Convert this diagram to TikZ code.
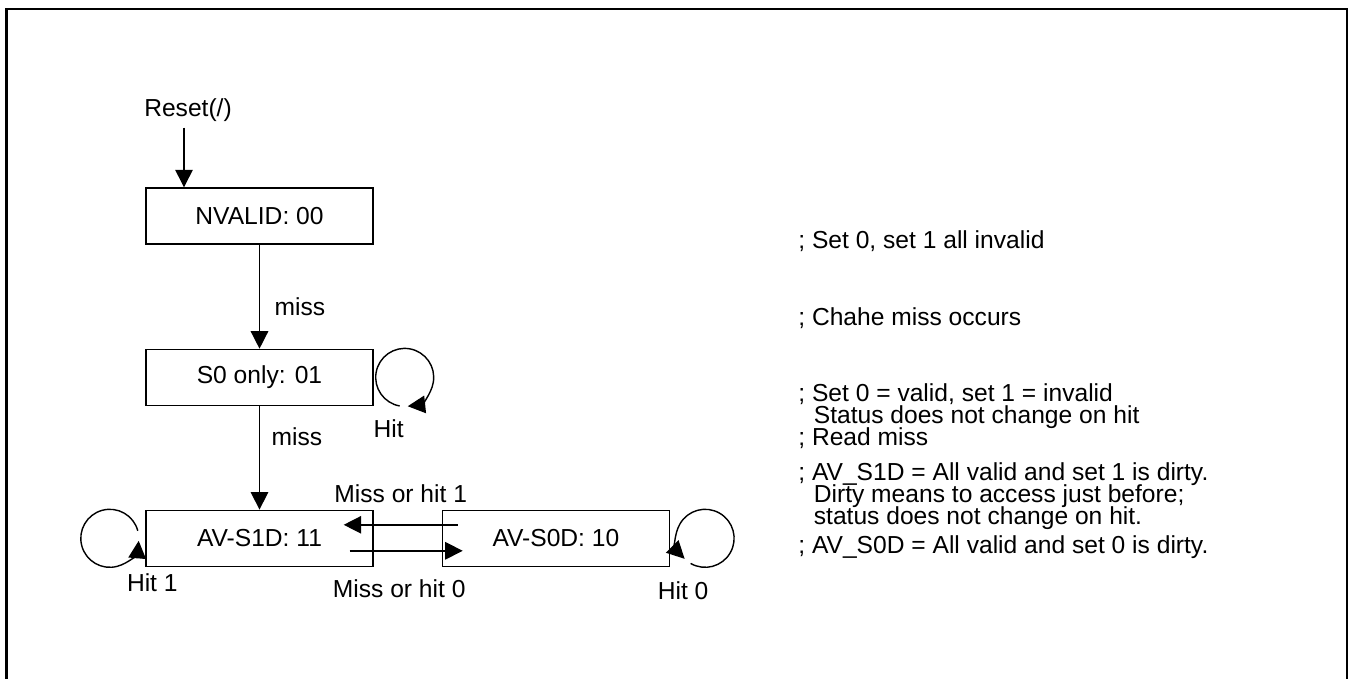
\documentclass[tikz,border=0pt]{standalone}
\usepackage{fontspec}
\setmainfont{Liberation Sans}
\usepackage{tikz}
\usetikzlibrary{positioning, arrows.meta}
\tikzset{
  statebox/.style={draw, line width=0.8pt, minimum width=4.54cm, minimum height=1.12cm},
  arr/.style={line width=0.8pt, -{Triangle[length=0.35cm, width=0.35cm]}},
  note/.style={anchor=base west, inner sep=0pt},
}

\begin{document}
\begin{tikzpicture}[font=\fontsize{14pt}{16pt}\selectfont]
  \useasboundingbox (0,0) rectangle (27.06,13.58);
  % frame, open at the bottom like the scan
  \draw[line width=1.5pt] (0.126,-0.3) -- (0.126,13.40) -- (26.94,13.40) -- (26.94,-0.3);

  \node (reset) at (3.76,11.38) {Reset(/)};
  \node[statebox] (nvalid) at (5.19,9.26) {NVALID: 00};
  \node[statebox, below=2.08cm of nvalid] (s0) {S0 only: 01};
  \node[statebox, below=2.07cm of s0] (avs1d) {AV-S1D: 11};
  \node[statebox, right=1.36cm of avs1d] (avs0d) {AV-S0D: 10};

  \draw[arr] ([xshift=-0.08cm]reset.south) -- ([xshift=-0.08cm]reset.south |- nvalid.north);
  \draw[arr] (nvalid) -- (s0) node[pos=0.6, right=0.17cm] (miss1) {miss};
  \draw[arr] (s0) -- (avs1d) node[pos=0.3, right=0.11cm] (miss2) {miss};
  \draw[arr] ([xshift=0.32cm, yshift=0.27cm]avs0d.west) -- ([xshift=-0.6cm, yshift=0.27cm]avs1d.east)
    node[midway, above=0.32cm] (mh1) {Miss or hit 1};
  \draw[arr] ([xshift=-0.48cm, yshift=-0.25cm]avs1d.east) -- ([xshift=0.42cm, yshift=-0.25cm]avs0d.west)
    node[midway, below=0.44cm, xshift=-0.14cm] (mh0) {Miss or hit 0};

  % self loops
  \coordinate (s0c) at ([xshift=0.62cm]s0.east);
  \coordinate (l1c) at ([xshift=-0.71cm]avs1d.west);
  \coordinate (l0c) at ([xshift=0.70cm]avs0d.east);
  \draw[arr] ([shift={(260:0.58)}]s0c) arc[start angle=260, end angle=-84, radius=0.58];
  \draw[arr] ([shift={(15:0.58)}]l1c) arc[start angle=15, end angle=355, radius=0.58];
  \draw[arr] ([shift={(240:0.58)}]l0c) arc[start angle=240, end angle=585, radius=0.58];
  \node (hit) at ([shift={(-0.32,-1.02)}]s0c) {Hit};
  \node (hit1) at ([shift={(0.85,-0.89)}]l1c) {Hit 1};
  \node (hit0) at ([shift={(-0.44,-1.05)}]l0c) {Hit 0};

  % comments on the right
  \node[note] (c1) at (15.96,8.60) {; Set 0, set 1 all invalid};
  \node[note] (c2) at (15.96,7.06) {; Chahe miss occurs};
  \node[note] (c3) at (15.96,5.54) {; Set 0 = valid, set 1 = invalid};
  \node[note] (c4) at (16.27,5.10) {Status does not change on hit};
  \node[note] (c5) at (15.96,4.66) {; Read miss};
  \node[note] (c6) at (15.96,3.96) {; AV\_S1D = All valid and set 1 is dirty.};
  \node[note] (c7) at (16.27,3.52) {Dirty means to access just before;};
  \node[note] (c8) at (16.27,3.08) {status does not change on hit.};
  \node[note] (c9) at (15.96,2.50) {; AV\_S0D = All valid and set 0 is dirty.};
\end{tikzpicture}
\end{document}
